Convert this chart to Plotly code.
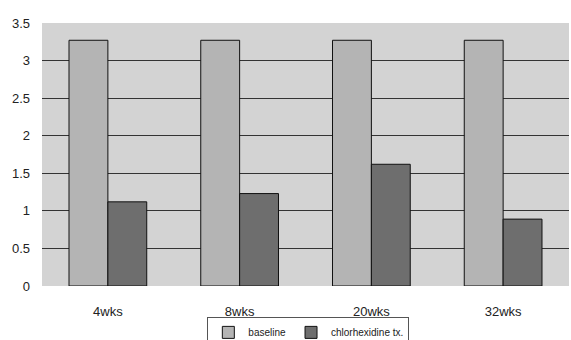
import plotly.graph_objects as go

categories = ["4wks", "8wks", "20wks", "32wks"]
baseline = [3.27, 3.27, 3.27, 3.27]
chlorhexidine = [1.12, 1.23, 1.62, 0.89]
y_ticks = [0, 0.5, 1, 1.5, 2, 2.5, 3, 3.5]

fig = go.Figure()
fig.add_trace(go.Bar(x=categories, y=baseline, name="baseline",
                     marker=dict(color="#b4b4b4", line=dict(color="#111111", width=1))))
fig.add_trace(go.Bar(x=categories, y=chlorhexidine, name="chlorhexidine tx.",
                     marker=dict(color="#6e6e6e", line=dict(color="#111111", width=1))))

fig.update_layout(
    width=571, height=340,
    margin=dict(l=42, r=2, t=23, b=54, autoexpand=False),
    paper_bgcolor="white",
    plot_bgcolor="#d3d3d3",
    barmode="group",
    bargap=0.41,
    bargroupgap=0,
    font=dict(family="Liberation Sans, Arial, sans-serif", size=13, color="#222222"),
    showlegend=True,
    legend=dict(orientation="h", xref="container", x=0.54, xanchor="center",
                yref="container", y=0.068, yanchor="top",
                bgcolor="white", bordercolor="#555555", borderwidth=1,
                font=dict(size=10, color="#222222"),
                itemwidth=30, tracegroupgap=0),
)
fig.update_xaxes(showgrid=False, ticks="", tickfont=dict(size=13), showline=False,
                 ticklabelstandoff=16, automargin=False)
fig.update_yaxes(range=[0, 3.5], tickvals=y_ticks, showgrid=True, gridcolor="#333333",
                 gridwidth=1, zeroline=False, ticks="", tickfont=dict(size=13),
                 showline=False, ticklabelstandoff=11, automargin=False)

fig.write_html("out.html", post_script="document.body.style.margin='0';",
               config={"displayModeBar": False})
